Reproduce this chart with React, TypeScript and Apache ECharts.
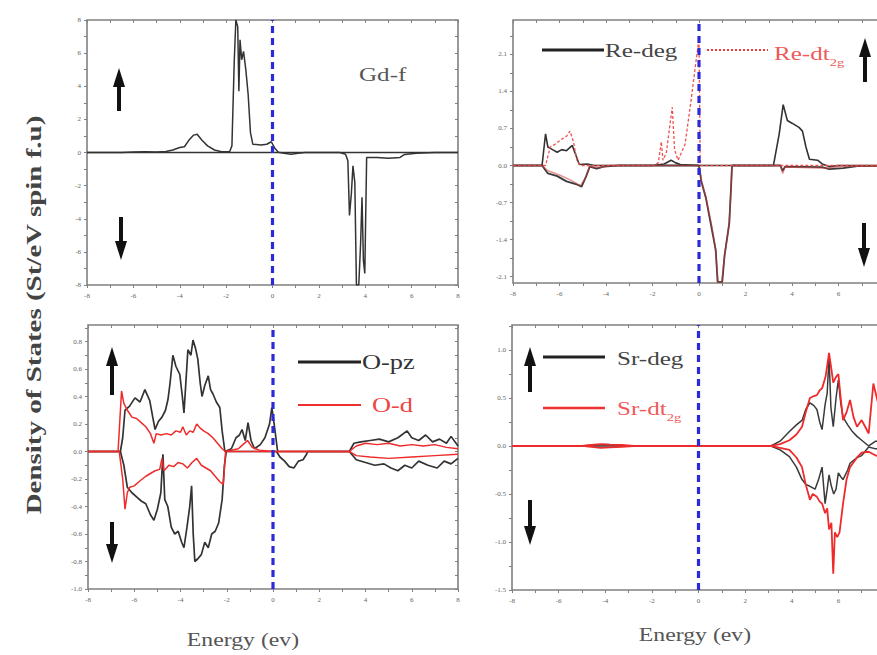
import React, { useEffect, useRef } from 'react';
import * as echarts from 'echarts';

// ---------- tick values ----------
const X_LABELS = [-8, -6, -4, -2, 0, 2, 4, 6, 8];
const X_LABELS_CUT = [-8, -6, -4, -2, 0, 2, 4, 6];
const X_MINOR = [-8, -7, -6, -5, -4, -3, -2, -1, 0, 1, 2, 3, 4, 5, 6, 7, 8];
const GD_Y_LABELS = [-8, -6, -4, -2, 0, 2, 4, 6, 8];
const GD_Y_MINOR = [-8, -7, -6, -5, -4, -3, -2, -1, 0, 1, 2, 3, 4, 5, 6, 7, 8];
const RE_Y_LABELS = [-2.1, -1.4, -0.7, 0, 0.7, 1.4, 2.1];
const RE_Y_MINOR = [-2.1, -1.75, -1.4, -1.05, -0.7, -0.35, 0, 0.35, 0.7, 1.05, 1.4, 1.75, 2.1, 2.45];
const O_Y_LABELS = [-1.0, -0.8, -0.6, -0.4, -0.2, 0, 0.2, 0.4, 0.6, 0.8];
const O_Y_MINOR = [-1.0, -0.9, -0.8, -0.7, -0.6, -0.5, -0.4, -0.3, -0.2, -0.1, 0, 0.1, 0.2, 0.3, 0.4, 0.5, 0.6, 0.7, 0.8, 0.9];
const SR_Y_LABELS = [-1.5, -1.0, -0.5, 0, 0.5, 1.0];
const SR_Y_MINOR = [-1.5, -1.25, -1.0, -0.75, -0.5, -0.25, 0, 0.25, 0.5, 0.75, 1.0, 1.25];

// ---------- Gd-f ----------
const GD_UP = [[-8,0],[-6.5,0],[-6,0.03],[-5.5,0.05],[-5,0.03],[-4.6,0.06],[-4.3,0.15],[-4.0,0.3],[-3.8,0.35],[-3.6,0.75],[-3.4,1.05],[-3.25,1.1],[-3.05,0.75],[-2.8,0.4],[-2.5,0.15],[-2.2,0.05],[-1.85,0.05],[-1.75,0.4],[-1.65,5.5],[-1.58,8],[-1.5,7.6],[-1.45,3.7],[-1.4,6.8],[-1.33,5.6],[-1.25,6.1],[-1.15,5.0],[-1.05,3.5],[-0.95,1.2],[-0.85,0.5],[-0.5,0.45],[-0.25,0.5],[-0.05,0.65],[0.1,0.25],[0.25,0.02],[0.5,-0.05],[0.8,-0.1],[1.1,-0.05],[1.4,0],[3,0],[8,0]];
const GD_DN = [[-8,0],[2.9,0],[3.15,-0.1],[3.25,-0.5],[3.32,-3.8],[3.4,-2.5],[3.47,-0.8],[3.55,-1.8],[3.62,-8],[3.72,-8],[3.8,-5.5],[3.86,-2.7],[3.92,-6.5],[3.98,-7.3],[4.06,-0.3],[4.5,-0.3],[5.0,-0.35],[5.5,-0.3],[5.7,-0.12],[6.2,-0.05],[7,0],[8,0]];

// ---------- Re ----------
const RE_DEG_UP = [[-8,0],[-6.75,0],[-6.6,0.6],[-6.5,0.35],[-6.3,0.3],[-6.1,0.25],[-5.9,0.3],[-5.7,0.28],[-5.45,0.38],[-5.3,0.2],[-5.15,0.02],[-4.8,0.03],[-4.5,0],[-2,0],[-1.5,0.03],[-1.2,0.1],[-1.0,0.05],[-0.8,0.02],[0,0],[3.2,0],[3.45,0.6],[3.62,1.15],[3.8,0.85],[4.0,0.8],[4.3,0.72],[4.45,0.65],[4.6,0.35],[4.75,0.12],[5.1,0.1],[5.3,0.03],[5.6,-0.02],[6,0],[9,0]];
const RE_DEG_DN = [[-8,0],[-6.75,0],[-6.5,-0.15],[-6.1,-0.2],[-5.7,-0.3],[-5.3,-0.35],[-5.05,-0.4],[-4.85,-0.2],[-4.7,-0.02],[-4.4,-0.06],[-4.1,-0.02],[-3.5,0],[0,0],[0.1,-0.3],[0.3,-0.62],[0.55,-1.2],[0.72,-1.6],[0.8,-2.2],[1.0,-2.2],[1.1,-1.7],[1.3,-1.1],[1.38,-0.4],[1.42,0],[3.5,0],[3.6,-0.1],[3.7,-0.02],[5.3,-0.03],[5.6,-0.07],[6.2,-0.05],[6.8,-0.01],[9,0]];
const RE_T2G_UP = [[-8,0],[-6.6,0],[-6.4,0.35],[-6.2,0.4],[-5.9,0.5],[-5.7,0.55],[-5.55,0.65],[-5.4,0.45],[-5.25,0.1],[-5.1,0],[-2,0],[-1.75,0.05],[-1.62,0.45],[-1.55,0.1],[-1.4,0.25],[-1.3,0.6],[-1.15,1.1],[-1.05,0.3],[-0.9,0.1],[-0.6,0.4],[-0.35,1.2],[-0.15,1.9],[0,2.4],[0.05,0.1],[0.1,0],[3.4,0],[9,0]];
const RE_T2G_DN = [[-8,0],[-6.75,0],[-6.5,-0.1],[-6,-0.18],[-5.5,-0.28],[-5.1,-0.38],[-4.9,-0.25],[-4.7,-0.02],[-4.3,-0.04],[-3.8,0],[0,0],[0.1,-0.28],[0.3,-0.6],[0.55,-1.15],[0.7,-1.55],[0.82,-2.2],[0.98,-2.2],[1.1,-1.7],[1.3,-1.1],[1.38,-0.4],[1.42,0],[3.5,0],[3.6,-0.15],[3.7,-0.03],[5.5,-0.05],[6,-0.02],[9,0]];

// ---------- O ----------
const O_PZ_UP = [[-8,0],[-6.6,0],[-6.5,0.1],[-6.4,0.3],[-6.2,0.33],[-5.97,0.39],[-5.75,0.36],[-5.54,0.45],[-5.33,0.37],[-5.2,0.25],[-5.1,0.16],[-4.95,0.22],[-4.8,0.25],[-4.65,0.3],[-4.54,0.38],[-4.45,0.5],[-4.33,0.7],[-4.2,0.62],[-4.03,0.56],[-3.92,0.4],[-3.85,0.28],[-3.75,0.55],[-3.68,0.74],[-3.55,0.7],[-3.46,0.81],[-3.35,0.75],[-3.25,0.67],[-3.15,0.5],[-3.07,0.4],[-2.95,0.48],[-2.8,0.55],[-2.7,0.45],[-2.6,0.42],[-2.45,0.36],[-2.3,0.32],[-2.2,0.15],[-2.08,0],[-1.8,0.02],[-1.6,0.1],[-1.45,0.12],[-1.34,0.16],[-1.2,0.08],[-1.08,0.21],[-0.95,0.08],[-0.8,0.02],[-0.55,0.05],[-0.35,0.1],[-0.15,0.2],[-0.05,0.32],[0.05,0.2],[0.2,0],[3.3,0],[3.5,0.06],[3.8,0.07],[4.2,0.08],[4.6,0.09],[5.0,0.07],[5.4,0.1],[5.8,0.15],[6.0,0.1],[6.3,0.08],[6.6,0.12],[6.9,0.07],[7.2,0.09],[7.5,0.06],[7.7,0.11],[8,0.04]];
const O_PZ_DN = [[-8,0],[-6.6,0],[-6.45,-0.1],[-6.3,-0.26],[-6.1,-0.3],[-5.9,-0.33],[-5.7,-0.36],[-5.5,-0.38],[-5.3,-0.46],[-5.15,-0.5],[-5.0,-0.42],[-4.85,-0.3],[-4.76,-0.02],[-4.68,-0.35],[-4.55,-0.4],[-4.4,-0.55],[-4.25,-0.6],[-4.1,-0.58],[-3.95,-0.66],[-3.85,-0.7],[-3.72,-0.55],[-3.6,-0.4],[-3.52,-0.25],[-3.45,-0.6],[-3.38,-0.8],[-3.25,-0.78],[-3.1,-0.75],[-2.95,-0.66],[-2.8,-0.7],[-2.65,-0.6],[-2.5,-0.58],[-2.35,-0.52],[-2.2,-0.35],[-2.1,-0.1],[-2.02,0],[0.15,0],[0.3,-0.04],[0.5,-0.07],[0.7,-0.11],[0.9,-0.12],[1.1,-0.07],[1.3,-0.06],[1.45,-0.02],[1.5,0],[3.3,0],[3.6,-0.06],[4.0,-0.08],[4.4,-0.1],[4.8,-0.09],[5.1,-0.12],[5.4,-0.14],[5.7,-0.1],[6.0,-0.12],[6.3,-0.07],[6.7,-0.1],[7.1,-0.12],[7.4,-0.07],[7.7,-0.09],[8,-0.05]];
const O_D_UP = [[-8,0],[-6.7,0],[-6.55,0.44],[-6.45,0.35],[-6.3,0.3],[-6.1,0.25],[-5.9,0.24],[-5.7,0.21],[-5.5,0.18],[-5.3,0.13],[-5.15,0.06],[-5.05,0.13],[-4.85,0.12],[-4.6,0.13],[-4.4,0.12],[-4.2,0.15],[-4.0,0.14],[-3.9,0.18],[-3.75,0.12],[-3.6,0.15],[-3.45,0.14],[-3.3,0.2],[-3.15,0.17],[-3.0,0.15],[-2.8,0.13],[-2.6,0.1],[-2.4,0.06],[-2.2,0.02],[-2.05,0],[-1.5,0.02],[-1.3,0.05],[-1.1,0.08],[-0.9,0.03],[-0.6,0.01],[0,0],[3.3,0],[3.6,0.04],[4.0,0.06],[4.5,0.05],[5.0,0.06],[5.5,0.04],[6.0,0.05],[6.5,0.04],[7.0,0.05],[7.5,0.03],[8,0.02]];
const O_D_DN = [[-8,0],[-6.65,0],[-6.5,-0.2],[-6.4,-0.42],[-6.3,-0.3],[-6.2,-0.26],[-6.0,-0.25],[-5.8,-0.22],[-5.5,-0.18],[-5.3,-0.16],[-5.1,-0.14],[-4.9,-0.13],[-4.8,-0.05],[-4.72,-0.14],[-4.5,-0.1],[-4.3,-0.11],[-4.1,-0.08],[-3.9,-0.09],[-3.7,-0.12],[-3.5,-0.08],[-3.3,-0.05],[-3.1,-0.1],[-2.9,-0.12],[-2.7,-0.14],[-2.5,-0.18],[-2.3,-0.22],[-2.15,-0.24],[-2.05,0],[3.3,0],[3.6,-0.03],[4.2,-0.04],[5,-0.05],[6,-0.04],[7,-0.03],[8,-0.02]];

// ---------- Sr ----------
const SR_DEG_UP = [[-8,0],[-5,0],[-4.5,0.01],[-4,0.015],[-3.5,0.01],[-3,0],[3.1,0],[3.5,0.05],[3.9,0.15],[4.2,0.22],[4.45,0.27],[4.6,0.38],[4.78,0.45],[4.95,0.42],[5.08,0.38],[5.2,0.25],[5.3,0.17],[5.43,0.43],[5.52,0.55],[5.6,0.93],[5.68,0.4],[5.78,0.2],[5.9,0.5],[6.0,0.69],[6.1,0.45],[6.2,0.3],[6.4,0.22],[6.6,0.15],[6.8,0.1],[7.0,0.06],[7.3,0],[7.6,0.05],[8,0.04],[8.5,0.04]];
const SR_DEG_DN = [[-8,0],[3.1,0],[3.5,-0.04],[3.9,-0.11],[4.2,-0.22],[4.44,-0.35],[4.6,-0.4],[4.78,-0.42],[5.0,-0.45],[5.15,-0.35],[5.3,-0.22],[5.43,-0.6],[5.52,-0.45],[5.6,-0.3],[5.7,-0.42],[5.8,-0.5],[5.9,-0.45],[6.0,-0.28],[6.1,-0.32],[6.2,-0.35],[6.4,-0.25],[6.5,-0.18],[6.8,-0.12],[7.0,-0.1],[7.3,-0.01],[7.6,-0.03],[8,-0.02],[8.5,-0.02]];
const SR_T2G_UP = [[-8,0],[-5,0],[-4.6,0.01],[-4.2,0.02],[-3.8,0.015],[-3.3,0.01],[-2.8,0],[3.1,0],[3.5,0.02],[3.9,0.06],[4.2,0.12],[4.44,0.2],[4.6,0.35],[4.78,0.5],[4.95,0.52],[5.08,0.53],[5.2,0.58],[5.3,0.6],[5.45,0.72],[5.6,0.97],[5.7,0.8],[5.78,0.66],[5.9,0.72],[6.0,0.75],[6.1,0.5],[6.2,0.27],[6.35,0.35],[6.5,0.48],[6.65,0.3],[6.8,0.2],[7.0,0.27],[7.15,0.2],[7.3,0.13],[7.5,0.65],[7.7,0.45],[7.85,0.7],[8,0.5],[8.5,0.5]];
const SR_T2G_DN = [[-8,0],[-5,0],[-4.6,-0.01],[-4.2,-0.02],[-3.8,-0.015],[-3.3,-0.01],[-2.8,0],[3.1,0],[3.5,-0.02],[3.9,-0.04],[4.2,-0.12],[4.44,-0.22],[4.6,-0.4],[4.78,-0.56],[4.9,-0.5],[5.08,-0.53],[5.2,-0.58],[5.3,-0.6],[5.43,-0.7],[5.52,-0.65],[5.6,-0.87],[5.7,-0.8],[5.78,-1.33],[5.85,-0.9],[5.95,-0.95],[6.05,-0.9],[6.2,-0.6],[6.35,-0.35],[6.5,-0.22],[6.8,-0.12],[7.0,-0.07],[7.3,-0.06],[7.6,-0.1],[8,-0.11],[8.5,-0.11]];

// ---------- panel extents ----------
const Y_RANGES = [[-8, 8], [-2.22, 2.75], [-1.0, 0.92], [-1.5, 1.26]];
const Y_LABELS = [GD_Y_LABELS, RE_Y_LABELS, O_Y_LABELS, SR_Y_LABELS];
const Y_MINOR = [GD_Y_MINOR, RE_Y_MINOR, O_Y_MINOR, SR_Y_MINOR];
const X_LABEL_SETS = [X_LABELS, X_LABELS_CUT, X_LABELS, X_LABELS_CUT];
const Y_DIGITS = [0, 1, 1, 1];

const SERIF = '"Liberation Serif", "Times New Roman", "DejaVu Serif", serif';
const BLACK = '#333333';
const RED = '#ee2a2a';
const FERMI = '#2a2ad8';
const STRETCH = 1.32;

export default function App() {
  const ref = useRef<HTMLDivElement>(null);

  useEffect(() => {
    if (!ref.current) return;
    const chart = echarts.init(ref.current, undefined, { renderer: 'svg' });

    const grids = [
      { left: 87, top: 20, width: 371, height: 265 },
      { left: 513, top: 20, width: 372, height: 263 },
      { left: 88, top: 325, width: 370, height: 264 },
      { left: 512, top: 325, width: 373, height: 265 },
    ].map((g) => ({
      ...g,
      show: true,
      borderColor: '#808080',
      borderWidth: 1.6,
      backgroundColor: 'transparent',
      containLabel: false,
      outerBoundsMode: 'none',
    }));

    const tickStyle = { color: '#808080', width: 1 };
    const labelStyle = { fontSize: 7, color: '#666', fontFamily: SERIF };

    const xAxes: any[] = [];
    const yAxes: any[] = [];
    for (let side = 0; side < 2; side++) {
      for (let i = 0; i < 4; i++) {
        xAxes.push({
          type: 'value',
          gridIndex: i,
          position: side === 0 ? 'bottom' : 'top',
          min: -8,
          max: 8,
          axisLine: { show: false, onZero: false },
          axisTick: { show: true, customValues: X_MINOR, length: 3, inside: side === 1, lineStyle: tickStyle },
          axisLabel: side === 0
            ? { show: true, customValues: X_LABEL_SETS[i], margin: 7, ...labelStyle, formatter: (v: number) => String(v) }
            : { show: false },
          splitLine: { show: false },
        });
      }
    }
    for (let side = 0; side < 2; side++) {
      for (let i = 0; i < 4; i++) {
        yAxes.push({
          type: 'value',
          gridIndex: i,
          position: side === 0 ? 'left' : 'right',
          min: Y_RANGES[i][0],
          max: Y_RANGES[i][1],
          axisLine: { show: false, onZero: false },
          axisTick: { show: true, customValues: Y_MINOR[i], length: 3, inside: side === 1, lineStyle: tickStyle },
          axisLabel: side === 0
            ? { show: true, customValues: Y_LABELS[i], margin: 6, ...labelStyle, formatter: (v: number) => v.toFixed(Y_DIGITS[i]) }
            : { show: false },
          splitLine: { show: false },
        });
      }
    }

    const line = (data: number[][], idx: number, color: string, width: number, type: any = 'solid', z = 3) => ({
      type: 'line',
      xAxisIndex: idx,
      yAxisIndex: idx,
      data,
      showSymbol: false,
      symbol: 'none',
      silent: true,
      z,
      lineStyle: { color, width, type },
    });

    const fermi = (idx: number) => line([[0, Y_RANGES[idx][0]], [0, Y_RANGES[idx][1]]], idx, FERMI, 3.2, [7, 5], 6);

    const series = [
      line(GD_UP, 0, BLACK, 1.5),
      line(GD_DN, 0, BLACK, 1.5),
      fermi(0),
      line(RE_DEG_UP, 1, BLACK, 1.6),
      line(RE_DEG_DN, 1, '#3a3a3a', 1.8),
      line(RE_T2G_UP, 1, '#f05050', 1.3, [3, 2], 4),
      line(RE_T2G_DN, 1, 'rgba(200,60,60,0.55)', 1.5, 'solid', 4),
      fermi(1),
      line(O_PZ_UP, 2, BLACK, 1.7),
      line(O_PZ_DN, 2, BLACK, 1.7),
      line(O_D_UP, 2, RED, 1.5, 'solid', 4),
      line(O_D_DN, 2, RED, 1.5, 'solid', 4),
      fermi(2),
      line(SR_DEG_UP, 3, '#3a3a3a', 1.5),
      line(SR_DEG_DN, 3, '#3a3a3a', 1.5),
      line(SR_T2G_UP, 3, RED, 1.8, 'solid', 4),
      line(SR_T2G_DN, 3, RED, 1.8, 'solid', 4),
      fermi(3),
    ];

    const arrow = (x: number, tip: number, tail: number) => {
      const dir = tail > tip ? 1 : -1;
      const headLen = 19;
      const hw = 6;
      const baseY = tip + dir * headLen;
      const shaftTop = Math.min(baseY - dir * 2, tail);
      const shaftBot = Math.max(baseY - dir * 2, tail);
      return {
        type: 'group',
        children: [
          { type: 'rect', shape: { x: x - 2, y: shaftTop, width: 4, height: shaftBot - shaftTop }, style: { fill: '#111' } },
          { type: 'polygon', shape: { points: [[x, tip], [x - hw, baseY], [x + hw, baseY]] }, style: { fill: '#111' } },
        ],
      };
    };

    const legendLine = (x1: number, x2: number, y: number, color: string, w: number, dash?: number[]) => ({
      type: 'line',
      shape: { x1, y1: y, x2, y2: y },
      style: { stroke: color, lineWidth: w, lineDash: dash },
      z: 10,
    });

    const txt = (text: string, x: number, y: number, size: number, color: string, align = 'left') => ({
      type: 'text',
      x,
      y,
      scaleX: STRETCH,
      z: 10,
      style: { text, x: 0, y: 0, align, verticalAlign: 'middle', font: `${size}px ${SERIF}`, fill: color },
    });

    const subTxt = (main: string, sub: string, x: number, y: number, color: string) => ({
      type: 'text',
      x,
      y,
      scaleX: STRETCH,
      z: 10,
      style: {
        text: `{a|${main}}{b|${sub}}`,
        x: 0,
        y: 0,
        align: 'left',
        verticalAlign: 'middle',
        rich: {
          a: { fontSize: 19, fontFamily: SERIF, fill: color, lineHeight: 20, verticalAlign: 'top' },
          b: { fontSize: 11, fontFamily: SERIF, fill: color, lineHeight: 13, padding: [13, 0, 0, 0], verticalAlign: 'top' },
        },
      },
    });

    const graphic = [
      arrow(119, 68, 111),
      arrow(121, 260, 217),
      arrow(865, 38, 82),
      arrow(864, 267, 223),
      arrow(112, 347, 395),
      arrow(112, 563, 522),
      arrow(530, 347, 392),
      arrow(530, 545, 500),
      txt('Gd-f', 359, 75, 19, '#555'),
      legendLine(542, 604, 50, '#222', 3),
      txt('Re-deg', 605, 51, 19, '#444'),
      legendLine(707, 768, 50, '#ee3b3b', 2, [2, 2]),
      subTxt('Re-dt', '2g', 774, 54, '#ee5a5a'),
      legendLine(298, 361, 362, '#222', 3),
      txt('O-pz', 362, 362, 20, '#333'),
      legendLine(298, 361, 405, '#ee3030', 2.2),
      txt('O-d', 372, 405, 20, '#ee4545'),
      legendLine(543, 605, 357, '#222', 3.2),
      txt('Sr-deg', 617, 359, 19, '#444'),
      legendLine(543, 605, 408, '#ee3030', 2.6),
      subTxt('Sr-dt', '2g', 617, 409, '#ee5a5a'),
      txt('Energy (ev)', 243, 640, 18, '#555', 'center'),
      txt('Energy (ev)', 695, 635, 18, '#555', 'center'),
      {
        type: 'text',
        x: 34,
        y: 315,
        rotation: Math.PI / 2,
        scaleX: 1.45,
        z: 10,
        style: {
          text: 'Density of States (St/eV spin f.u)',
          x: 0,
          y: 0,
          align: 'center',
          verticalAlign: 'middle',
          font: `bold 20px ${SERIF}`,
          fill: '#444',
        },
      },
    ];

    chart.setOption({
      animation: false,
      backgroundColor: '#ffffff',
      grid: grids,
      xAxis: xAxes,
      yAxis: yAxes,
      series,
      graphic,
    } as any);

    return () => chart.dispose();
  }, []);

  return (
    <div
      ref={ref}
      style={{ position: 'absolute', left: 0, top: 0, width: 877, height: 655, background: '#fff' }}
    />
  );
}
